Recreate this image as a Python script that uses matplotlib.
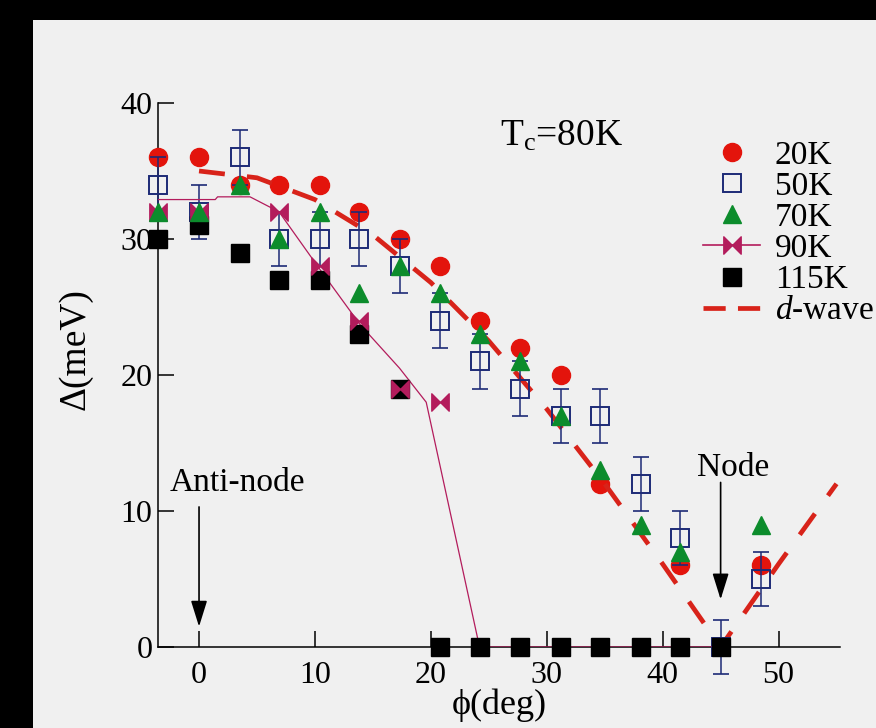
#!/usr/bin/env python3
"""
Superconducting gap vs Fermi-surface angle at several temperatures,
with a d-wave reference line.
"""

import matplotlib
matplotlib.use("Agg")                 # write straight to file
import matplotlib.pyplot as plt
from matplotlib.lines import Line2D
from matplotlib.patches import Rectangle
from matplotlib.path import Path

plt.rcParams["font.family"] = ["Liberation Serif", "DejaVu Serif"]
plt.rcParams["mathtext.fontset"] = "custom"
plt.rcParams["mathtext.rm"] = "Liberation Serif"
plt.rcParams["mathtext.it"] = "Liberation Serif:italic"

# --- measured gaps (meV) vs angle phi (deg) ---
phi_20k = [-3.5, 0.0, 3.5, 6.9, 10.4, 13.8, 17.3, 20.8, 24.2, 27.7, 31.2, 34.6, 41.5, 48.5]
gap_20k = [36, 36, 34, 34, 34, 32, 30, 28, 24, 22, 20, 12, 6, 6]

phi_50k = [-3.5, 0.0, 3.5, 6.9, 10.4, 13.8, 17.3, 20.8, 24.2, 27.7, 31.2, 34.6, 38.1, 41.5, 45.0, 48.5]
gap_50k = [34, 32, 36, 30, 30, 30, 28, 24, 21, 19, 17, 17, 12, 8, 0, 5]
err_50k = [2, 2, 2, 2, 2, 2, 2, 2, 2, 2, 2, 2, 2, 2, 2, 2]

phi_70k = [-3.5, 0.0, 3.5, 6.9, 10.4, 13.8, 17.3, 20.8, 24.2, 27.7, 31.2, 34.6, 38.1, 41.5, 48.5]
gap_70k = [32, 32, 34, 30, 32, 26, 28, 26, 23, 21, 17, 13, 9, 7, 9]

phi_90k = [-3.5, 0.0, 6.9, 10.4, 13.8, 17.3, 20.8]
gap_90k = [32, 32, 32, 28, 24, 19, 18]

# guide line through the 90K data
phi_90k_fit = [-3.5, 1.4, 1.6, 4.4, 6.9, 10.4, 13.9, 17.3, 19.6, 24.2, 45.0]
gap_90k_fit = [32.9, 32.9, 33.1, 33.1, 32.0, 27.8, 23.7, 20.5, 18.0, 0.0, 0.0]

phi_115k = [-3.5, 0.0, 3.5, 6.9, 10.4, 13.8, 17.3, 20.8, 24.2, 27.7, 31.2, 34.6, 38.1, 41.5, 45.0]
gap_115k = [30, 31, 29, 27, 27, 23, 19, 0, 0, 0, 0, 0, 0, 0, 0]

# simple d-wave gap
phi_dwave = [0, 5, 10, 15, 20, 25, 30, 35, 40, 45, 50, 55]
gap_dwave = [35, 34.5, 32.9, 30.3, 26.8, 22.5, 17.5, 12.0, 6.1, 0.0, 6.1, 12.0]

LABELS = ["20K", "50K", "70K", "90K", "115K", "$d$-wave"]

RED = "#e3140c"
NAVY = "#1d2a76"
GREEN = "#0c8c2c"
MAGENTA = "#b31c5c"
DASH_RED = "#d8231a"
BG = "#f0f0f0"

# bow-tie marker for the 90K set
BOWTIE = Path([(-1, -1), (-1, 1), (0, 0), (1, 1), (1, -1), (0, 0), (-1, -1)],
              [Path.MOVETO] + [Path.LINETO] * 5 + [Path.CLOSEPOLY])

W, H = 876, 728
fig = plt.figure(figsize=(W / 100, H / 100), dpi=100, facecolor=BG)
# black strips along the top and left edge
fig.patches.append(Rectangle((0, 0), 33 / W, 1, transform=fig.transFigure,
                             facecolor="black", edgecolor="none"))
fig.patches.append(Rectangle((0, 1 - 20 / H), 1, 20 / H, transform=fig.transFigure,
                             facecolor="black", edgecolor="none"))

ax = fig.add_axes([158 / W, 81 / H, 682 / W, 544 / H])
ax.set_facecolor("none")
ax.set_xlim(-3.54, 55.3)
ax.set_ylim(0, 40)
ax.spines["top"].set_visible(False)
ax.spines["right"].set_visible(False)
for s in ("left", "bottom"):
    ax.spines[s].set_linewidth(1.1)
ax.set_xticks([0, 10, 20, 30, 40, 50])
ax.set_yticks([0, 10, 20, 30, 40])
ax.tick_params(direction="in", length=11.5, width=1.1, labelsize=23)
ax.tick_params(axis="x", pad=10)
ax.tick_params(axis="y", pad=4)

h20, = ax.plot(phi_20k, gap_20k, ls="none", marker="o", ms=13, color=RED,
               mec=RED, zorder=3, clip_on=False)
hdw, = ax.plot(phi_dwave, gap_dwave, color=DASH_RED, lw=3.4, dashes=(5.5, 4.7),
               zorder=4, clip_on=False)
ax.errorbar(phi_50k, gap_50k, yerr=err_50k, fmt="none", ecolor=NAVY,
            elinewidth=1.1, capsize=6, capthick=1.2, zorder=5, clip_on=False)
h50, = ax.plot(phi_50k, gap_50k, ls="none", marker="s", ms=12.5, mfc="none",
               mec=NAVY, mew=1.4, zorder=5, clip_on=False)
ax.plot(phi_90k_fit, gap_90k_fit, color=MAGENTA, lw=0.9, zorder=5.5)
h115, = ax.plot(phi_115k, gap_115k, ls="none", marker="s", ms=12.5, color="black",
                zorder=6, clip_on=False)
ax.plot(phi_90k, gap_90k, ls="none", marker=BOWTIE, ms=12.5, color=MAGENTA,
        zorder=7, clip_on=False)
h70, = ax.plot(phi_70k, gap_70k, ls="none", marker="^", ms=13, color=GREEN,
               zorder=8, clip_on=False)
h90 = Line2D([], [], color=MAGENTA, lw=1.2, marker=BOWTIE, ms=12.5)
# legend sample for the d-wave line: two dashes across the key
hdw_key = Line2D([], [], color=DASH_RED, lw=3.4, dashes=(4.7, 2.6))

ax.legend([h20, h50, h70, h90, h115, hdw_key], LABELS, loc="upper left",
          bbox_to_anchor=(703 / W, (H - 140) / H), bbox_transform=fig.transFigure,
          frameon=False, fontsize=24, handlelength=1.71, handletextpad=0.45,
          borderpad=0, labelspacing=0.02, borderaxespad=0)

# annotations
ax.text(26.0, 36.9, r"T$_{\rm c}$=80K", fontsize=27, ha="left", va="baseline")
ax.text(-2.5, 11.5, "Anti-node", fontsize=24, ha="left", va="baseline")
ax.text(43.0, 12.6, "Node", fontsize=24, ha="left", va="baseline")
arrow = dict(arrowstyle="-|>,head_length=0.8,head_width=0.25", color="black",
             lw=1.2, mutation_scale=20, shrinkA=0, shrinkB=0)
ax.annotate("", xy=(0, 1.5), xytext=(0, 10.3), arrowprops=arrow)
ax.annotate("", xy=(45, 3.5), xytext=(45, 12.1), arrowprops=arrow)

fig.text(499 / W, (H - 705) / H, "ϕ(deg)", fontsize=26, ha="center", va="center")
fig.text(75 / W, (H - 349) / H, "Δ(meV)", fontsize=27, rotation=90,
         ha="center", va="center")

fig.savefig("out.png", dpi=100, facecolor=fig.get_facecolor())
